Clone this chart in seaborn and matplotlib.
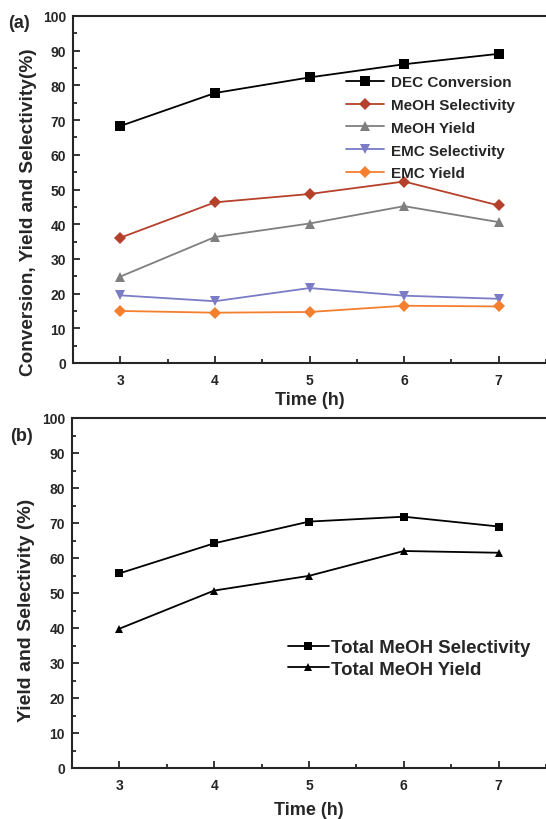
import numpy as np
import pandas as pd
import seaborn as sns
import matplotlib.pyplot as plt
from matplotlib.ticker import MultipleLocator

time_h = [3, 4, 5, 6, 7]

# panel (a)
dec_conversion = [68.3, 77.8, 82.3, 86.1, 89.1]
meoh_selectivity = [36.1, 46.3, 48.7, 52.3, 45.4]
meoh_yield = [24.9, 36.3, 40.2, 45.2, 40.6]
emc_selectivity = [19.5, 17.8, 21.6, 19.4, 18.5]
emc_yield = [15.0, 14.5, 14.7, 16.5, 16.3]

# panel (b)
total_meoh_selectivity = [55.6, 64.2, 70.4, 71.8, 69.0]
total_meoh_yield = [39.8, 50.7, 54.9, 62.0, 61.5]

sns.set_style("ticks")
plt.rcParams['font.family'] = ['Liberation Sans', 'DejaVu Sans']
plt.rcParams['font.weight'] = 'bold'

fig = plt.figure(figsize=(5.46, 8.2), dpi=100)
ax1 = fig.add_axes([73/546, 1-364/820, 1-73/546, 347/820])
ax2 = fig.add_axes([72/546, 1-769/820, 1-72/546, 350/820])

series_a = [
    ("DEC Conversion", dec_conversion, "#000000", "s"),
    ("MeOH Selectivity", meoh_selectivity, "#b5412b", "D"),
    ("MeOH Yield", meoh_yield, "#7f7f7f", "^"),
    ("EMC Selectivity", emc_selectivity, "#7b7bc6", "v"),
    ("EMC Yield", emc_yield, "#f47f2e", "D"),
]
for name, vals, col, mk in series_a:
    df = pd.DataFrame({"Time": time_h, "val": vals})
    sns.lineplot(data=df, x="Time", y="val", ax=ax1, color=col, marker=mk,
                 markersize=7 if mk != "D" else 6, markeredgewidth=0,
                 linewidth=1.3, label=name)

series_b = [
    ("Total MeOH Selectivity", total_meoh_selectivity, "s"),
    ("Total MeOH Yield", total_meoh_yield, "^"),
]
for name, vals, mk in series_b:
    df = pd.DataFrame({"Time": time_h, "val": vals})
    sns.lineplot(data=df, x="Time", y="val", ax=ax2, color="black", marker=mk,
                 markersize=5.5, markeredgewidth=0, linewidth=1.3, label=name)

for ax in (ax1, ax2):
    ax.set_xlim(2.5, 7.5)
    ax.set_ylim(0, 100)
    ax.xaxis.set_major_locator(MultipleLocator(1))
    ax.xaxis.set_minor_locator(MultipleLocator(0.5))
    ax.yaxis.set_major_locator(MultipleLocator(10))
    ax.yaxis.set_minor_locator(MultipleLocator(5))
    ax.tick_params(which='both', direction='in', width=1.3, labelsize=10)
    ax.tick_params(which='major', length=5)
    ax.tick_params(which='minor', length=3)
    ax.tick_params(axis='x', pad=7)
    ax.tick_params(axis='y', pad=5)
    for lab in ax.get_xticklabels() + ax.get_yticklabels():
        lab.set_fontweight('bold')
    ax.spines['right'].set_visible(False)
    for s in ('left', 'bottom', 'top'):
        ax.spines[s].set_linewidth(1.5)

ax1.set_xlabel("Time (h)", fontsize=13, fontweight='bold', labelpad=3)
ax2.set_xlabel("Time (h)", fontsize=13, fontweight='bold', labelpad=7)

ax1.set_ylabel("Conversion, Yield and Selectivity(%)", fontsize=13.7, fontweight='bold')
ax1.yaxis.set_label_coords(-0.076, 0.438)
ax2.set_ylabel("Yield and Selectivity (%)", fontsize=14, fontweight='bold')
ax2.yaxis.set_label_coords(-0.078, 0.454)

leg1 = ax1.legend(loc='upper left', bbox_to_anchor=(0.56, 0.852), frameon=False,
                  fontsize=11, handlelength=2.5, handletextpad=0.45, labelspacing=0.58,
                  borderpad=0)
leg2 = ax2.legend(loc='upper left', bbox_to_anchor=(0.436, 0.394), frameon=False,
                  fontsize=13.4, handlelength=2.2, handletextpad=0.1, labelspacing=0.22,
                  borderpad=0)
for leg in (leg1, leg2):
    for t in leg.get_texts():
        t.set_fontweight('bold')

fig.text(8/546, 1-24/820, "(a)", fontsize=13, fontweight='bold', va='center')
fig.text(10/546, 1-437/820, "(b)", fontsize=13, fontweight='bold', va='center')

fig.savefig("out.png", dpi=100)
